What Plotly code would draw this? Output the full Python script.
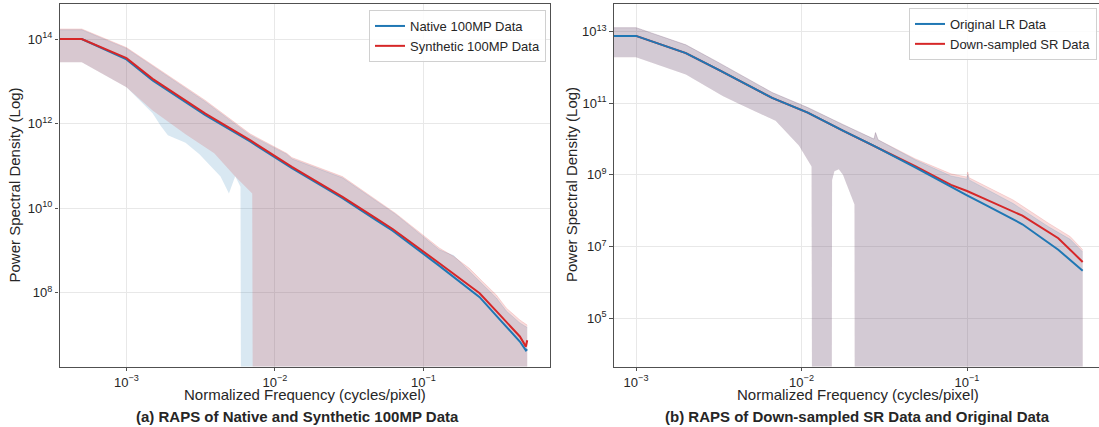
import numpy as np
import plotly.graph_objects as go

# ---------------- Panel (a): Native vs Synthetic 100MP ----------------
# values are log10(PSD); 0.0 marks a lower bound that fell below zero (clipped off the log axis)
a_mean_freq = [1e-4, 0.0005, 0.001, 0.0015, 0.0034, 0.0068, 0.013, 0.0285, 0.048, 0.062,
               0.128, 0.175, 0.239, 0.327, 0.446, 0.49, 0.5]
native_mean_log = [14.0, 14.0, 13.52, 13.02, 12.20, 11.58, 10.95, 10.24, 9.72, 9.47,
                   8.64, 8.27, 7.90, 7.37, 6.85, 6.64, 6.67]
synthetic_mean_log = [14.0, 14.0, 13.55, 13.06, 12.24, 11.61, 10.98, 10.27, 9.76, 9.51,
                      8.70, 8.35, 7.99, 7.48, 6.97, 6.73, 6.88]

a_upper_freq = [1e-4, 0.0005, 0.001, 0.0034, 0.0068, 0.012, 0.013, 0.0285, 0.065, 0.128,
                0.16, 0.204, 0.25, 0.31, 0.362, 0.446, 0.5]
synthetic_upper_log = [14.24, 14.24, 13.80, 12.55, 11.76, 11.30, 11.20, 10.75, 9.88, 9.06,
                       8.86, 8.58, 8.27, 7.95, 7.64, 7.36, 7.24]
native_upper_log = [14.22, 14.22, 13.78, 12.52, 11.73, 11.28, 11.17, 10.72, 9.86, 9.02,
                    8.88, 8.52, 8.21, 7.88, 7.57, 7.29, 7.18]

native_lower_freq = [1e-4, 0.0005, 0.001, 0.0015, 0.0017, 0.0019, 0.0025, 0.0031, 0.0043,
                     0.0049, 0.0054, 0.00586, 0.00595, 0.5]
native_lower_log = [13.45, 13.45, 12.86, 12.25, 11.95, 11.73, 11.55, 11.28, 10.75,
                    10.35, 10.76, 10.51, 0.0, 0.0]
synthetic_lower_freq = [1e-4, 0.0005, 0.001, 0.0015, 0.0025, 0.0039, 0.0054, 0.00703, 0.00715, 0.5]
synthetic_lower_log = [13.45, 13.45, 12.86, 12.31, 11.75, 11.30, 10.75, 10.35, 0.0, 0.0]

# ---------------- Panel (b): Down-sampled SR vs Original LR ----------------
b_mean_freq = [1e-4, 0.001, 0.002, 0.00314, 0.00664, 0.0109, 0.0179, 0.0274, 0.0486, 0.08,
               0.1, 0.125, 0.196, 0.216, 0.356, 0.5]
lr_mean_log = [12.88, 12.88, 12.40, 11.94, 11.15, 10.74, 10.23, 9.81, 9.21, 8.66,
               8.43, 8.20, 7.72, 7.62, 6.91, 6.32]
sr_mean_log = [12.88, 12.88, 12.40, 11.94, 11.15, 10.74, 10.23, 9.81, 9.24, 8.72,
               8.55, 8.35, 7.95, 7.86, 7.23, 6.57]

b_upper_freq = [1e-4, 0.001, 0.002, 0.00314, 0.00664, 0.0109, 0.0179, 0.0274, 0.028, 0.029,
                0.0486, 0.08, 0.1, 0.101, 0.103, 0.19, 0.311, 0.42, 0.5]
sr_upper_log = [13.11, 13.11, 12.63, 12.14, 11.30, 10.88, 10.40, 10.00, 10.18, 9.98,
                9.45, 9.03, 8.94, 9.08, 8.92, 8.30, 7.65, 7.28, 6.91]
lr_upper_log = [13.11, 13.11, 12.63, 12.14, 11.30, 10.88, 10.40, 10.00, 10.18, 9.98,
                9.42, 8.97, 8.88, 9.00, 8.86, 8.20, 7.55, 7.20, 6.85]

b_lower_freq = [1e-4, 0.001, 0.002, 0.00334, 0.00424, 0.00697, 0.00964, 0.0115, 0.0116,
                0.0152, 0.0153, 0.0158, 0.0168, 0.0178, 0.0186, 0.0209, 0.021, 0.5]
lr_lower_log = [12.28, 12.28, 11.80, 11.20, 10.97, 10.51, 9.82, 9.23, 0.0,
                0.0, 8.86, 9.10, 9.16, 9.00, 8.77, 8.17, 0.0, 0.0]
sr_lower_log = [12.28, 12.28, 11.80, 11.20, 10.97, 10.51, 9.82, 9.23, 0.0,
                0.0, 8.86, 9.10, 9.16, 9.00, 8.77, 8.17, 0.0, 0.0]

# tick labels (decade exponents)
x_tick_exps = [-3, -2, -1]
a_y_tick_exps = [8, 10, 12, 14]
b_y_tick_exps = [5, 7, 9, 11, 13]

BLUE = "#1f77b4"
RED = "#d62728"
BLUE_FILL = "rgba(31,119,180,0.17)"
RED_FILL = "rgba(214,39,40,0.17)"
FONT = "Liberation Sans, Arial, sans-serif"
TXT = "#262626"
AX = "#505050"
GRID = "#e8e8e8"

W, H = 1099, 427


def p(v):
    return np.power(10.0, np.asarray(v, dtype=float))


def band(fig, xa, ya, lf, ll, uf, ul, fill):
    fig.add_trace(go.Scatter(x=lf, y=p(ll), mode="lines", line=dict(width=0, color=fill),
                             showlegend=False, hoverinfo="skip", xaxis=xa, yaxis=ya))
    fig.add_trace(go.Scatter(x=uf, y=p(ul), mode="lines", line=dict(width=0.8, color=fill),
                             fill="tonexty", fillcolor=fill, showlegend=False,
                             hoverinfo="skip", xaxis=xa, yaxis=ya))


fig = go.Figure()

# Panel (a)
band(fig, "x", "y", native_lower_freq, native_lower_log, a_upper_freq, native_upper_log, BLUE_FILL)
band(fig, "x", "y", synthetic_lower_freq, synthetic_lower_log, a_upper_freq, synthetic_upper_log, RED_FILL)
fig.add_trace(go.Scatter(x=a_mean_freq, y=p(native_mean_log), mode="lines", name="Native 100MP Data",
                         line=dict(color=BLUE, width=2), xaxis="x", yaxis="y", legend="legend",
                         legendrank=1))
fig.add_trace(go.Scatter(x=a_mean_freq, y=p(synthetic_mean_log), mode="lines", name="Synthetic 100MP Data",
                         line=dict(color=RED, width=2), xaxis="x", yaxis="y", legend="legend",
                         legendrank=2))

# Panel (b)
band(fig, "x2", "y2", b_lower_freq, sr_lower_log, b_upper_freq, sr_upper_log, RED_FILL)
band(fig, "x2", "y2", b_lower_freq, lr_lower_log, b_upper_freq, lr_upper_log, BLUE_FILL)
fig.add_trace(go.Scatter(x=b_mean_freq, y=p(sr_mean_log), mode="lines", name="Down-sampled SR Data",
                         line=dict(color=RED, width=2), xaxis="x2", yaxis="y2", legend="legend2",
                         legendrank=2))
fig.add_trace(go.Scatter(x=b_mean_freq, y=p(lr_mean_log), mode="lines", name="Original LR Data",
                         line=dict(color=BLUE, width=2), xaxis="x2", yaxis="y2", legend="legend2",
                         legendrank=1))


def ticks(exps):
    vals = [10.0 ** e for e in exps]
    txt = ["10<sup>%s</sup>" % (str(e).replace("-", "\u2212")) for e in exps]
    return vals, txt


def axis(domain, rng, exps, mirror, anchor):
    tv, tt = ticks(exps)
    return dict(type="log", domain=domain, range=rng, tickvals=tv, ticktext=tt,
                showline=True, linecolor=AX, linewidth=1.2, mirror=mirror,
                ticks="outside", ticklen=3.5, tickwidth=1, tickcolor=AX,
                showgrid=True, gridcolor=GRID, gridwidth=0.8, zeroline=False,
                tickfont=dict(family=FONT, size=13, color=TXT), anchor=anchor)


legend_style = dict(xanchor="right", yanchor="top", traceorder="normal",
                    bgcolor="rgba(255,255,255,0.85)", bordercolor="#d0d0d0", borderwidth=1,
                    font=dict(family=FONT, size=13, color=TXT), tracegroupgap=2)

y_dom = [1 - 366.5 / H, 1 - 4 / H]
fig.update_layout(
    width=W, height=H,
    margin=dict(l=0, r=0, t=0, b=0),
    paper_bgcolor="white", plot_bgcolor="white",
    font=dict(family=FONT, color=TXT),
    xaxis=axis([59.5 / W, 549.5 / W], [-3.451, -0.151], x_tick_exps, True, "y"),
    yaxis=axis(y_dom, [6.26, 14.83], a_y_tick_exps, True, "x"),
    xaxis2=axis([613.7 / W, 1.0], [-3.135, -0.2024], x_tick_exps, True, "y2"),
    yaxis2=axis(y_dom, [3.65, 13.77], b_y_tick_exps, False, "x2"),
    legend=dict(x=546 / W, y=1 - 10 / H, **legend_style),
    legend2=dict(x=1097 / W, y=1 - 8 / H, **legend_style),
)

ann = [
    dict(text="Power Spectral Density (Log)", x=13.5 / W, y=1 - 185 / H, textangle=-90, size=15, bold=False),
    dict(text="Power Spectral Density (Log)", x=571 / W, y=1 - 185 / H, textangle=-90, size=15, bold=False),
    dict(text="Normalized Frequency (cycles/pixel)", x=304.5 / W, y=1 - 394 / H, textangle=0, size=15, bold=False),
    dict(text="Normalized Frequency (cycles/pixel)", x=858 / W, y=1 - 394 / H, textangle=0, size=15, bold=False),
    dict(text="(a) RAPS of Native and Synthetic 100MP Data", x=297 / W, y=1 - 416 / H, textangle=0, size=15, bold=True),
    dict(text="(b) RAPS of Down-sampled SR Data and Original Data", x=857.5 / W, y=1 - 416 / H, textangle=0, size=15, bold=True),
]
for a in ann:
    t = "<b>%s</b>" % a["text"] if a["bold"] else a["text"]
    fig.add_annotation(text=t, x=a["x"], y=a["y"], xref="paper", yref="paper",
                       xanchor="center", yanchor="middle", textangle=a["textangle"],
                       showarrow=False, font=dict(family=FONT, size=a["size"], color=TXT))

fig.write_html("out.html", config={"displayModeBar": False},
               post_script="document.body.style.margin='0';document.body.style.overflow='hidden';")
